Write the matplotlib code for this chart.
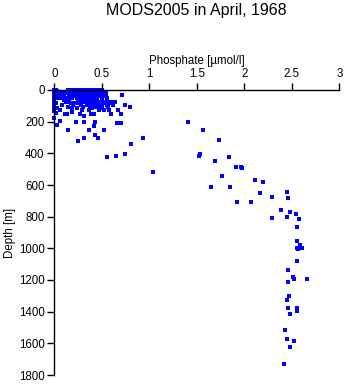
import matplotlib
matplotlib.use("Agg")
import matplotlib.pyplot as plt

plt.rcParams['font.family'] = ['Liberation Sans', 'DejaVu Sans']

title = "MODS2005 in April, 1968"
xlabel = "Phosphate [\u00b5mol/l]"
ylabel = "Depth [m]"
xticks = [0, 0.5, 1, 1.5, 2, 2.5, 3]
xticklabels = ["0", "0.5", "1", "1.5", "2", "2.5", "3"]
yticks = [0, 200, 400, 600, 800, 1000, 1200, 1400, 1600, 1800]

# near-surface observations (phosphate per depth level)
surface_rows = {
    0:   [0.0, 0.02, 0.14, 0.17, 0.2, 0.23, 0.26, 0.29, 0.32, 0.35, 0.38, 0.41, 0.44, 0.47, 0.5],
    8:   [0.0, 0.03, 0.15, 0.19, 0.22, 0.25, 0.28, 0.31, 0.34, 0.37, 0.4, 0.43, 0.46, 0.49],
    15:  [0.0, 0.05, 0.1, 0.16, 0.2, 0.24, 0.28, 0.32, 0.36, 0.4, 0.44, 0.48],
    22:  [0.0, 0.03, 0.07, 0.12, 0.18, 0.22, 0.26, 0.3, 0.34, 0.38, 0.42, 0.46, 0.5, 0.54],
    30:  [0.0, 0.05, 0.09, 0.15, 0.21, 0.25, 0.29, 0.33, 0.37, 0.41, 0.45, 0.49, 0.54, 0.71],
    40:  [0.0, 0.02, 0.06, 0.1, 0.17, 0.23, 0.27, 0.31, 0.35, 0.39, 0.43, 0.47, 0.52],
    50:  [0.0, 0.04, 0.08, 0.13, 0.19, 0.24, 0.28, 0.32, 0.36, 0.4, 0.44, 0.5, 0.55],
    60:  [0.0, 0.1, 0.15, 0.25, 0.3, 0.35, 0.4, 0.45],
    75:  [0.12, 0.15, 0.28, 0.32, 0.36, 0.4, 0.44, 0.48, 0.52, 0.56, 0.6, 0.64],
    85:  [0.0, 0.02, 0.18, 0.22, 0.26, 0.36, 0.4, 0.44, 0.48, 0.52, 0.56, 0.6],
    95:  [0.0, 0.08, 0.2, 0.28, 0.34, 0.42, 0.47, 0.5, 0.55, 0.62, 0.74],
    105: [0.0, 0.14, 0.3, 0.38, 0.44, 0.46, 0.5, 0.57, 0.8],
    115: [0.03, 0.19, 0.24, 0.4, 0.5],
}

# deeper observations
deep_phosphate = [
    0.0, 0.02, 0.0, 0.06, 0.11, 0.13, 0.19, 0.27, 0.31, 0.39, 0.42, 0.6, 0.58, 0.67,
    0.7, 0.47, 0.52, 0.29, 0.36, 0.03, 0.06, 0.23, 0.31, 0.43, 0.42, 0.66, 0.7,
    0.14, 0.36, 0.52, 0.43, 0.46, 0.31, 0.25, 0.55, 0.65, 0.74, 0.81, 0.93, 1.04,
    1.41, 1.56, 1.73, 1.53, 1.52, 1.69, 1.84, 1.91, 1.97, 1.98, 1.76, 1.65, 1.85,
    2.11, 2.2, 2.16, 2.29, 2.45, 2.46, 1.92, 2.07, 2.39, 2.48, 2.54, 2.58, 2.29,
    2.45, 2.55, 2.55, 2.55, 2.57, 2.59, 2.61, 2.55, 2.46, 2.51, 2.52, 2.66, 2.46,
    2.47, 2.45, 2.46, 2.55, 2.55, 2.48, 2.43, 2.45, 2.52, 2.48, 2.42,
]
deep_depth = [
    179, 147, 133, 128, 153, 153, 141, 153, 166, 153, 153, 153, 128, 128,
    153, 128, 128, 128, 128, 223, 198, 204, 204, 204, 225, 210, 210,
    255, 255, 255, 286, 305, 305, 324, 425, 415, 402, 343, 305, 518,
    204, 255, 314, 406, 417, 450, 425, 488, 488, 495, 545, 615, 615,
    570, 583, 652, 678, 646, 684, 709, 709, 760, 772, 781, 813, 810,
    804, 867, 956, 1000, 1006, 981, 996, 1082, 1139, 1179, 1192, 1192, 1211,
    1299, 1326, 1379, 1379, 1394, 1417, 1518, 1575, 1587, 1625, 1731,
]

phosphate = [v for d, row in surface_rows.items() for v in row] + deep_phosphate
depth = [d for d, row in surface_rows.items() for _ in row] + deep_depth

fig = plt.figure(figsize=(3.45, 3.84), dpi=100)
ax = fig.add_axes([54.3 / 345, 1 - 375 / 384, 285 / 345, 285 / 384])

ax.plot(phosphate, depth, linestyle='none', marker='s', markersize=2.5,
        markeredgewidth=0, color='#0000ff', clip_on=False, antialiased=False)

ax.set_xlim(0, 3)
ax.set_ylim(1800, 0)
ax.xaxis.set_ticks_position('top')
ax.xaxis.set_label_position('top')
ax.set_xticks(xticks)
ax.set_xticklabels(xticklabels)
ax.set_yticks(yticks)
ax.tick_params(axis='both', direction='out', length=5, width=1, labelsize=8.3,
               pad=2, colors='black')
ax.spines['right'].set_visible(False)
ax.spines['bottom'].set_visible(False)
ax.spines['top'].set_linewidth(1)
ax.spines['left'].set_linewidth(1)

ax.set_xlabel(xlabel, fontsize=8.3, labelpad=3)
ax.set_ylabel(ylabel, fontsize=8.3, labelpad=2)

fig.text(196 / 345, 1 - 10 / 384, title, ha='center', va='center', fontsize=11.5)

fig.savefig("out.png", dpi=100)
